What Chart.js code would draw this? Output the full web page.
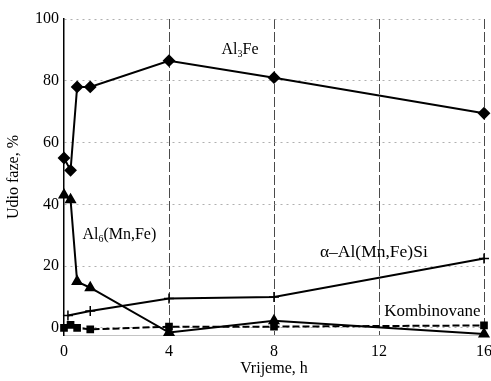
<!DOCTYPE html>
<html>
<head>
<meta charset="utf-8">
<script src="https://cdn.jsdelivr.net/npm/chart.js@4"></script>
<style>
  html, body { margin: 0; padding: 0; background: #fff; overflow: hidden; }
</style>
</head>
<body>
<canvas id="phaseChart" width="491" height="381"></canvas>
<script>
// annealing time (h) and phase fraction (%)
const timeAl3Fe = [0, 0.25, 0.5, 1, 4, 8, 16];
const valAl3Fe = [55, 51, 78, 78, 86.5, 81, 69.5];
const timeAl6 = [0, 0.25, 0.5, 1, 4, 8, 16];
const valAl6 = [43, 41.5, 15, 13, -1.5, 2.3, -2];
const timeAlpha = [0.15, 1, 4, 8, 16];
const valAlpha = [4, 5.5, 9.5, 10, 22.5];
const timeKomb = [0, 0.25, 0.5, 1, 4, 8, 16];
const valKomb = [0, 1, 0, -0.5, 0.4, 0.4, 0.8];
const xTicks = [0, 4, 8, 12, 16];
const yTicks = [0, 20, 40, 60, 80, 100];

const FONT = "'Liberation Serif', 'Times New Roman', serif";

function toPoints(xs, ys) {
  return xs.map((t, i) => ({ x: t, y: ys[i] }));
}

// phase names: runs of [text, subscript?], anchored in data units
const phaseLabels = [
  { x: 6.0, y: 90, size: 16, runs: [["Al", false], ["3", true], ["Fe", false]] },
  { x: 0.7, y: 30, size: 16, runs: [["Al", false], ["6", true], ["(Mn,Fe)", false]] },
  { x: 9.75, y: 24.3, size: 17.5, runs: [["\u03b1\u2013Al(Mn,Fe)Si", false]] },
  { x: 12.2, y: 5.2, size: 17, runs: [["Kombinovane", false]] }
];

const labelPlugin = {
  id: "phaseLabels",
  afterDatasetsDraw(chart) {
    const { ctx, scales } = chart;
    ctx.save();
    ctx.fillStyle = "#000";
    ctx.textAlign = "left";
    ctx.textBaseline = "middle";
    phaseLabels.forEach(lbl => {
      let px = scales.x.getPixelForValue(lbl.x);
      const py = scales.y.getPixelForValue(lbl.y);
      lbl.runs.forEach(([txt, sub]) => {
        ctx.font = (sub ? "10px " : lbl.size + "px ") + FONT;
        ctx.fillText(txt, px, sub ? py + 4 : py);
        px += ctx.measureText(txt).width;
      });
    });
    ctx.restore();
  }
};

const lineStyle = {
  borderColor: "#000",
  backgroundColor: "#000",
  borderWidth: 2,
  pointBorderColor: "#000",
  pointBackgroundColor: "#000",
  tension: 0,
  clip: false
};

// grid lines take their dash from border options per tick
const isTick = c => c.type === "tick";

new Chart(document.getElementById("phaseChart").getContext("2d"), {
  type: "scatter",
  data: {
    datasets: [
      Object.assign({ label: "Al3Fe", data: toPoints(timeAl3Fe, valAl3Fe), showLine: true,
        pointStyle: "rectRot", pointRadius: 5 }, lineStyle),
      Object.assign({ label: "Al6(Mn,Fe)", data: toPoints(timeAl6, valAl6), showLine: true,
        pointStyle: "triangle", pointRadius: 5 }, lineStyle),
      Object.assign({ label: "alpha", data: toPoints(timeAlpha, valAlpha), showLine: true,
        pointStyle: "cross", pointRadius: 5, pointBorderWidth: 1.5 }, lineStyle),
      Object.assign({ label: "Kombinovane", data: toPoints(timeKomb, valKomb), showLine: true,
        pointStyle: "rect", pointRadius: 4, borderDash: [7, 3] }, lineStyle)
    ]
  },
  options: {
    responsive: false,
    animation: false,
    devicePixelRatio: 1,
    layout: { padding: { top: 19, right: 3, left: 0, bottom: 0 } },
    plugins: {
      legend: { display: false },
      tooltip: { enabled: false }
    },
    scales: {
      x: {
        type: "linear",
        min: 0,
        max: 16,
        afterBuildTicks: s => { s.ticks = xTicks.map(v => ({ value: v })); },
        afterFit: s => { s.height = 46; s.paddingLeft = 0; s.paddingRight = 0; },
        ticks: { color: "#000", padding: 7, font: { family: FONT, size: 16 } },
        grid: {
          drawTicks: false,
          color: ctx => (ctx.tick && ctx.tick.value === 0 ? "rgba(0,0,0,0)" : "#4a4a4a"),
          lineWidth: 1
        },
        border: {
          display: true,
          color: "#c4c4c4",
          width: 1,
          dash: c => (isTick(c) ? [10, 3] : [2, 3])
        },
        title: {
          display: true,
          text: "Vrijeme, h",
          color: "#000",
          padding: { top: 0, bottom: 3 },
          font: { family: FONT, size: 16 }
        }
      },
      y: {
        min: -2.3,
        max: 100,
        afterBuildTicks: s => { s.ticks = yTicks.map(v => ({ value: v })); },
        afterFit: s => { s.width = 64; s.paddingTop = 0; s.paddingBottom = 0; },
        ticks: { color: "#000", padding: 5, font: { family: FONT, size: 16 } },
        grid: {
          drawTicks: false,
          color: "#b0b0b0",
          lineWidth: 1
        },
        border: {
          display: true,
          color: "#000",
          width: 1.5,
          dash: c => (isTick(c) ? [2, 4] : [])
        },
        title: {
          display: true,
          text: "Udio faze, %",
          color: "#000",
          padding: { top: 4, bottom: 4 },
          font: { family: FONT, size: 16 }
        }
      }
    }
  },
  plugins: [labelPlugin]
});
</script>
</body>
</html>
